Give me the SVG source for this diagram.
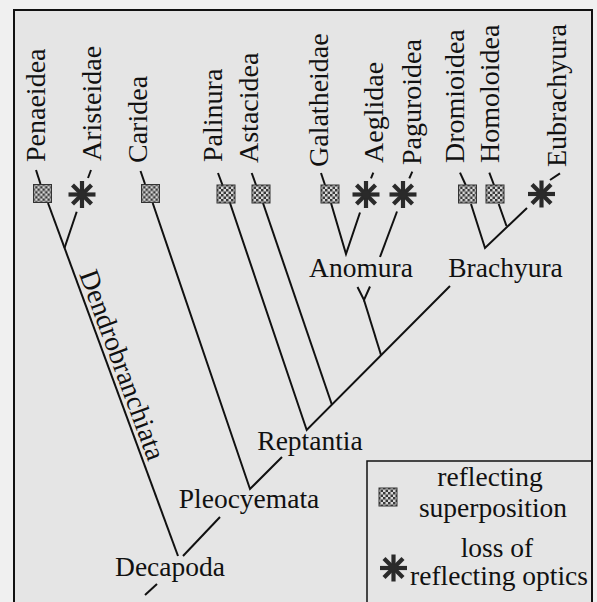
<svg xmlns="http://www.w3.org/2000/svg" width="597" height="602" viewBox="0 0 597 602">
<defs>
<style>
.bg{fill:#f0f0f0}
.panel{fill:#e5e5e5}
.frame{fill:none;stroke:#111;stroke-width:2}
.ln{fill:none;stroke:#111;stroke-width:2;stroke-linecap:butt;stroke-linejoin:miter}
.lbl{font-size:28px;fill:#111}
.hl{font-size:27.5px;fill:#111;text-anchor:middle}
</style>
<pattern id="chk" width="5" height="5" patternUnits="userSpaceOnUse">
<rect width="5" height="5" fill="#d8d8d8"/>
<rect width="2.5" height="2.5" fill="#3a3a3a"/>
<rect x="2.5" y="2.5" width="2.5" height="2.5" fill="#3a3a3a"/>
</pattern>
<g id="sq"><rect x="-9" y="-9" width="18" height="18" fill="url(#chk)" stroke="#333" stroke-width="1"/></g>
<g id="star" stroke="#2a2a2a" stroke-width="4.2" stroke-linecap="butt">
<line x1="0" y1="-13.5" x2="0" y2="13.5"/>
<line x1="-13.5" y1="0" x2="13.5" y2="0"/>
<line x1="-9.5" y1="-9.5" x2="9.5" y2="9.5"/>
<line x1="-9.5" y1="9.5" x2="9.5" y2="-9.5"/>
<circle r="4" fill="#2a2a2a" stroke="none"/>
</g>
</defs>
<rect class="bg" x="0" y="0" width="597" height="602"/>
<rect class="panel" x="14" y="10" width="578" height="592"/>
<path class="frame" d="M14,602 V10 H592 V602"/>

<g id="connectors">
<path class="ln" d="M36,170 L40.5,184"/>
<path class="ln" d="M48,203 L178,556"/>
<path class="ln" d="M91,170 L88,178"/>
<path class="ln" d="M76.7,211.7 L64.5,248"/>
<path class="ln" d="M140.5,171 L145,184"/>
<path class="ln" d="M152.7,203 L250,489 L282,457"/>
<path class="ln" d="M218,173 L222.5,185"/>
<path class="ln" d="M230,203 L306.7,430 L450,286"/>
<path class="ln" d="M251.7,173 L256,185"/>
<path class="ln" d="M263,203 L332,405"/>
<path class="ln" d="M321,173 L325,185"/>
<path class="ln" d="M331,203 L346,254 L360,212.5"/>
<path class="ln" d="M373.3,172.7 L371,178.3"/>
<path class="ln" d="M412.3,171.7 L409.3,178.3"/>
<path class="ln" d="M397,211.5 L380,257"/>
<path class="ln" d="M357.5,287 L364,300 L370,286.5"/>
<path class="ln" d="M364,300 L381,355"/>
<path class="ln" d="M183,556 L220,517"/>
<path class="ln" d="M157,584 L145,595"/>
<path class="ln" d="M460,172.7 L465.7,185"/>
<path class="ln" d="M489.3,172.7 L494,185"/>
<path class="ln" d="M550,180 L560,173.3"/>
<path class="ln" d="M471,204 L485,248 L527,208"/>
<path class="ln" d="M506.5,226 L498.7,204"/>
</g>

<g font-family="'Liberation Serif', 'DejaVu Serif', serif">
<g id="Penaeidea"><use href="#sq" x="42.5" y="193.5"/><text class="lbl" transform="translate(45,162) rotate(-90)">Penaeidea</text></g>
<g id="Aristeidae"><use href="#star" x="82" y="194.5"/><text class="lbl" transform="translate(101,161) rotate(-90)">Aristeidae</text></g>
<g id="Caridea"><use href="#sq" x="150.5" y="193.5"/><text class="lbl" transform="translate(146.5,163) rotate(-90)">Caridea</text></g>
<g id="Palinura"><use href="#sq" x="226" y="194"/><text class="lbl" transform="translate(221.5,162) rotate(-90)">Palinura</text></g>
<g id="Astacidea"><use href="#sq" x="261" y="194"/><text class="lbl" transform="translate(258,163) rotate(-90)">Astacidea</text></g>
<g id="Galatheidae"><use href="#sq" x="330" y="194"/><text class="lbl" transform="translate(328,167) rotate(-90)">Galatheidae</text></g>
<g id="Aeglidae"><use href="#star" x="366" y="194.5"/><text class="lbl" transform="translate(383,163) rotate(-90)">Aeglidae</text></g>
<g id="Paguroidea"><use href="#star" x="403" y="194.5"/><text class="lbl" transform="translate(421,165) rotate(-90)">Paguroidea</text></g>
<g id="Dromioidea"><use href="#sq" x="467.5" y="194"/><text class="lbl" transform="translate(464,163) rotate(-90)">Dromioidea</text></g>
<g id="Homoloidea"><use href="#sq" x="495" y="194"/><text class="lbl" transform="translate(498.5,163) rotate(-90)">Homoloidea</text></g>
<g id="Eubrachyura"><use href="#star" x="541.5" y="194"/><text class="lbl" transform="translate(565.5,167) rotate(-90)">Eubrachyura</text></g>

<g id="Anomura"><text class="hl" x="361" y="277">Anomura</text></g>
<g id="Brachyura"><text class="hl" x="505.5" y="277">Brachyura</text></g>
<g id="Reptantia"><text class="hl" x="310" y="450">Reptantia</text></g>
<g id="Pleocyemata"><text class="hl" x="249" y="508">Pleocyemata</text></g>
<g id="Decapoda"><text class="hl" x="170" y="576">Decapoda</text></g>
<g id="Dendrobranchiata"><text class="lbl" transform="translate(79,274) rotate(69.8)">Dendrobranchiata</text></g>

<g id="legend">
<path class="ln" style="stroke-width:1.5" d="M367,602 V461 H592"/>
<use href="#sq" x="388" y="497"/>
<use href="#star" x="393.5" y="568"/>
<text class="hl" x="490" y="486">reflecting</text>
<text class="hl" x="493" y="517">superposition</text>
<text class="hl" x="497" y="557">loss of</text>
<text class="hl" x="499" y="585">reflecting optics</text>
</g>
</g>
</svg>
